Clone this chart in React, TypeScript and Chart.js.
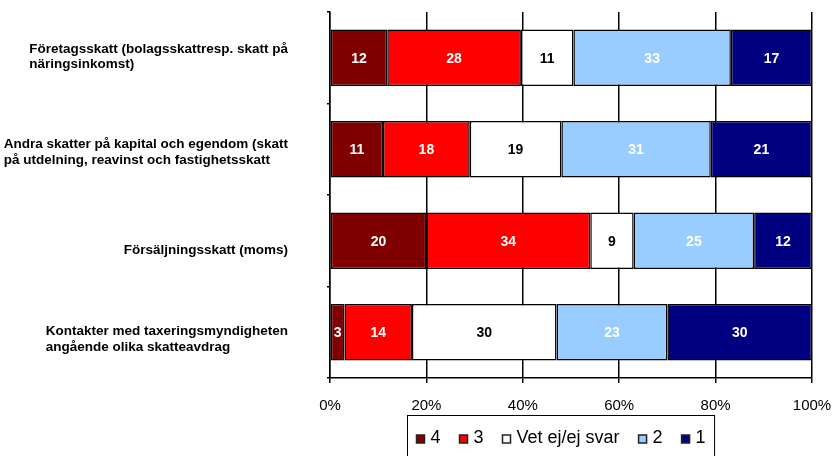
import React, { useEffect, useRef } from "react";
import { Chart, registerables } from "chart.js";

Chart.register(...registerables);

// ---- data ----
const categories: string[][] = [
  ["Företagsskatt (bolagsskattresp. skatt på", "näringsinkomst)"],
  ["Andra skatter på kapital och egendom (skatt", "på utdelning, reavinst och fastighetsskatt"],
  ["Försäljningsskatt (moms)"],
  ["Kontakter med taxeringsmyndigheten", "angående olika skatteavdrag"],
];
const seriesNames = ["4", "3", "Vet ej/ej svar", "2", "1"];
const series4 = [12, 11, 20, 3];
const series3 = [28, 18, 34, 14];
const seriesVet = [11, 19, 9, 30];
const series2 = [33, 31, 25, 23];
const series1 = [17, 21, 12, 30];
const xTickStep = 20;
const xMax = 100;

const rawSeries = [series4, series3, seriesVet, series2, series1];

// ---- style ----
const FONT = "'Liberation Sans', Arial, Helvetica, sans-serif";
const fillColors = ["#800000", "#FF0000", "#FFFFFF", "#99CCFF", "#000080"];
const valueColors = ["#FFFFFF", "#FFFFFF", "#000000", "#FFFFFF", "#FFFFFF"];
const labelShift = [-1, 3, 10, 7];

export default function App() {
  const ref = useRef<HTMLCanvasElement | null>(null);

  useEffect(() => {
    if (!ref.current) return;
    const totals = categories.map((_, j) =>
      rawSeries.reduce((s, arr) => s + arr[j], 0)
    );
    const datasets = rawSeries.map((arr, i) => ({
      label: seriesNames[i],
      data: arr.map((v, j) => (v / totals[j]) * 100),
      backgroundColor: fillColors[i],
      borderColor: "#000000",
      borderWidth: 1.5,
      borderSkipped: false as const,
      categoryPercentage: 1,
      barPercentage: 0.62,
    }));

    const decor = {
      id: "decor",
      afterDatasetsDraw(chart: any) {
        const ctx = chart.ctx;
        ctx.save();
        ctx.font = `bold 14px ${FONT}`;
        ctx.textAlign = "center";
        ctx.textBaseline = "middle";
        chart.data.datasets.forEach((_: any, i: number) => {
          const meta = chart.getDatasetMeta(i);
          meta.data.forEach((el: any, j: number) => {
            const p = el.getProps(["x", "y", "base"], true);
            ctx.fillStyle = valueColors[i];
            ctx.fillText(String(rawSeries[i][j]), (p.x + p.base) / 2, p.y + 1);
          });
        });
        ctx.restore();
      },
      afterDraw(chart: any) {
        const ctx = chart.ctx;
        const ca = chart.chartArea;
        const yScale = chart.scales.y;
        ctx.save();
        // category labels
        ctx.font = `bold 13.5px ${FONT}`;
        ctx.fillStyle = "#000";
        ctx.textAlign = "left";
        ctx.textBaseline = "middle";
        const right = ca.left - 42;
        (chart.data.labels as string[][]).forEach((lines, i) => {
          const cy = yScale.getPixelForValue(i) + labelShift[i];
          const w = Math.max(...lines.map((l) => ctx.measureText(l).width));
          const x0 = right - w;
          lines.forEach((l, k) => {
            ctx.fillText(l, x0, cy + (k - (lines.length - 1) / 2) * 15.5);
          });
        });
        // legend
        ctx.font = `18px ${FONT}`;
        const mW = 8, gapMT = 6, gapItem = 19, pad = 9;
        const widths = seriesNames.map((n) => ctx.measureText(n).width);
        const total =
          widths.reduce((s, w) => s + w + mW + gapMT, 0) + gapItem * (seriesNames.length - 1);
        const boxW = total + pad * 2;
        const cx = 561;
        const boxL = Math.round(cx - boxW / 2) + 0.5;
        const boxT = 415.5;
        ctx.strokeStyle = "#000";
        ctx.lineWidth = 1;
        ctx.strokeRect(boxL, boxT, boxW, 60);
        let x = boxL + pad;
        const ty = 438;
        seriesNames.forEach((n, i) => {
          ctx.fillStyle = fillColors[i];
          ctx.fillRect(x, ty - 3, mW, mW);
          ctx.lineWidth = 1.5;
          ctx.strokeStyle = "#222";
          ctx.strokeRect(x, ty - 3, mW, mW);
          ctx.fillStyle = "#000";
          ctx.fillText(n, x + mW + gapMT, ty);
          x += mW + gapMT + widths[i] + gapItem;
        });
        ctx.restore();
      },
    };

    const chart = new Chart(ref.current, {
      type: "bar",
      data: { labels: categories, datasets },
      options: {
        indexAxis: "y",
        responsive: false,
        animation: false,
        devicePixelRatio: 1,
        layout: { padding: { top: 12, right: 24, left: 0, bottom: 0 } },
        plugins: {
          legend: { display: false },
          tooltip: { enabled: false },
        },
        scales: {
          x: {
            type: "linear",
            stacked: true,
            min: 0,
            max: xMax,
            afterFit: (s: any) => {
              s.height = 78;
              s.paddingLeft = 0;
              s.paddingRight = 0;
            },
            ticks: {
              stepSize: xTickStep,
              callback: (v: any) => `${v}%`,
              font: { family: FONT, size: 15 },
              color: "#000",
              padding: 14,
              maxRotation: 0,
            },
            grid: {
              color: "#000",
              lineWidth: 1.5,
              tickLength: 5,
              drawTicks: true,
            },
            border: { display: true, color: "#000", width: 1.5 },
          },
          y: {
            type: "category",
            stacked: true,
            offset: true,
            afterFit: (s: any) => {
              s.width = 330;
            },
            ticks: { display: false },
            grid: {
              display: true,
              offset: true,
              drawOnChartArea: false,
              drawTicks: true,
              tickLength: 3,
              color: "#000",
              lineWidth: 1.5,
            },
            border: { display: true, color: "#000", width: 1.5 },
          },
        },
      },
      plugins: [decor],
    });
    return () => chart.destroy();
  }, []);

  return (
    <div
      style={{
        position: "fixed",
        left: 0,
        top: 0,
        width: 836,
        height: 456,
        background: "#fff",
      }}
    >
      <canvas ref={ref} width={836} height={456} style={{ display: "block" }} />
    </div>
  );
}
